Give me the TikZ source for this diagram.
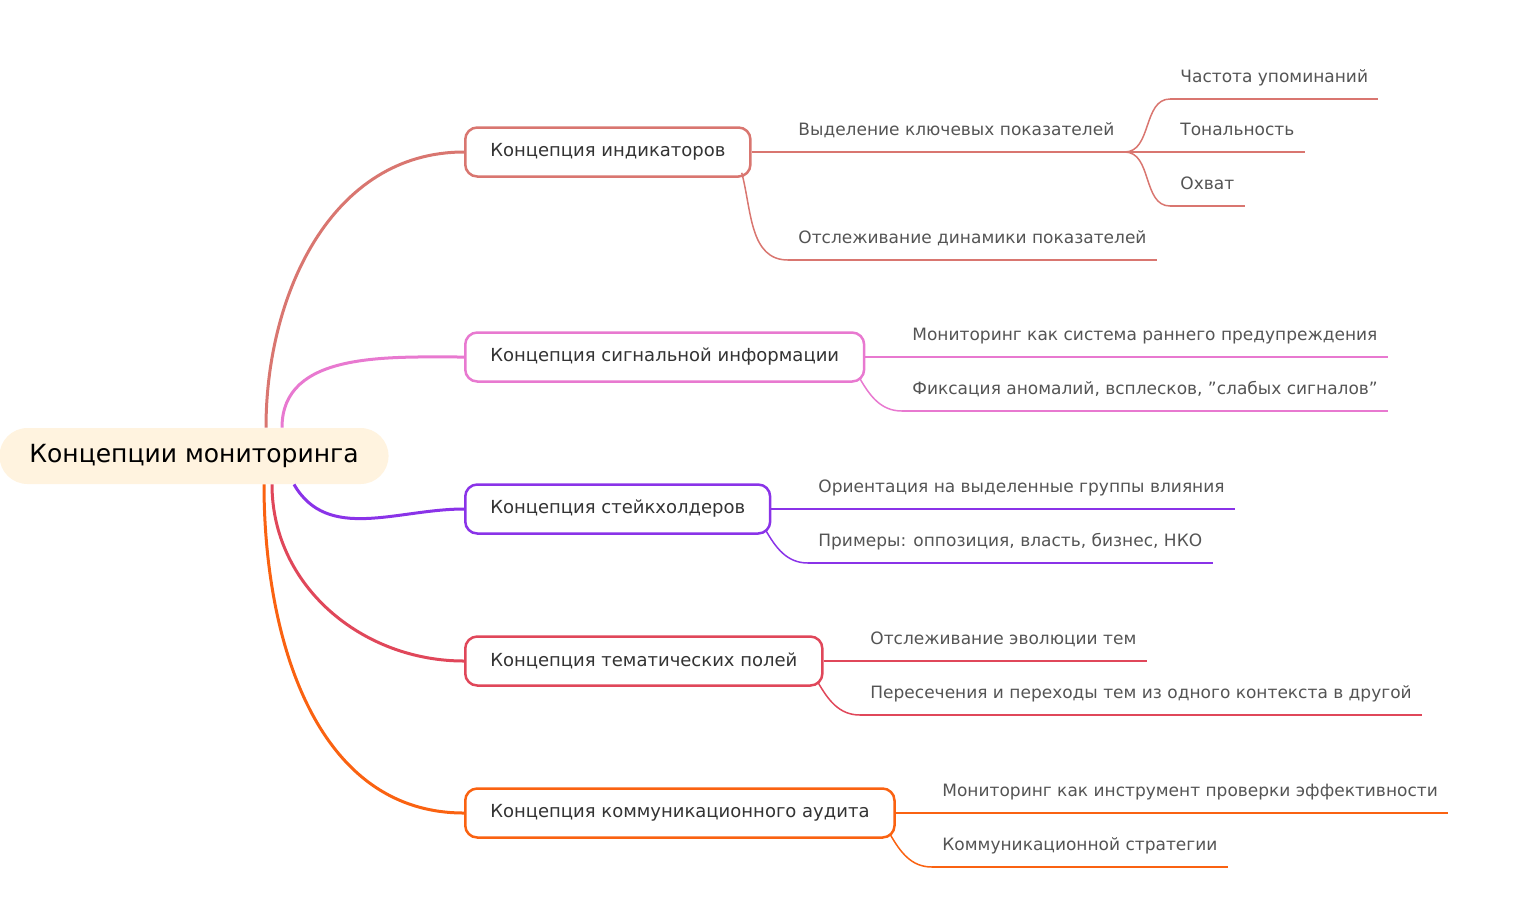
\documentclass[tikz,border=0pt]{standalone}
\usepackage{fontspec}
\setmainfont{DejaVu Sans}
\usetikzlibrary{positioning}
\definecolor{rootfill}{RGB}{255,243,223}
\definecolor{cind}{RGB}{217,118,112}
\definecolor{csig}{RGB}{232,121,208}
\definecolor{cstk}{RGB}{138,51,232}
\definecolor{cthm}{RGB}{224,71,90}
\definecolor{caud}{RGB}{250,98,17}
\tikzset{
  root/.style={fill=rootfill, rounded corners=14pt, minimum height=28pt, inner xsep=15pt, font=\fontsize{12.5}{14}\selectfont, text=black}, % central topic
  topic/.style={draw=#1, line width=1.25pt, fill=white, rounded corners=6pt, minimum height=24.5pt, inner xsep=12.5pt, anchor=west, font=\fontsize{9}{11}\selectfont, text=black!80},
  leaf/.style={anchor=south west, inner xsep=5pt, inner ysep=6pt, text height=7pt, text depth=2pt, font=\fontsize{8.5}{10}\selectfont, text=black!67,
    append after command={(\tikzlastnode.south west) edge[draw=#1, line width=0.75pt] (\tikzlastnode.south east)}},
  trunk/.style={draw=#1, line width=1.5pt},
  twig/.style={draw=#1, line width=0.75pt},
}
\begin{document}
\begin{tikzpicture}[x=0.5pt, y=-0.5pt]
\useasboundingbox (0,0) rectangle (1536,912);
\node[root] (root) at (194,456) {Концепции мониторинга};

% main branches
\node[topic=cind] (ind) at (464,152) {Концепция индикаторов};
\node[topic=csig] (sig) at (464,357) {Концепция сигнальной информации};
\node[topic=cstk] (stk) at (464,509) {Концепция стейкхолдеров};
\node[topic=cthm] (thm) at (464,661) {Концепция тематических полей};
\node[topic=caud] (aud) at (464,813) {Концепция коммуникационного аудита};

\draw[trunk=cind] ([xshift=36pt]root.north) to[out=90,in=180] (ind.west);
\draw[trunk=csig] ([xshift=44pt]root.north) to[out=90,in=180] (sig.west);
\draw[trunk=cstk] ([xshift=50pt]root.south) to[out=-60,in=180] (stk.west);
\draw[trunk=cthm] ([xshift=39pt]root.south) to[out=-90,in=180] (thm.west);
\draw[trunk=caud] ([xshift=35pt]root.south) to[out=-90,in=180] (aud.west);

% indicators
\node[leaf=cind] (ind1) at (788,152) {Выделение ключевых показателей};
\node[leaf=cind] (ind2) at (788,260) {Отслеживание динамики показателей};
\node[leaf=cind] (ind11) at (1170,99) {Частота упоминаний};
\node[leaf=cind] (ind12) at (1170,152) {Тональность};
\node[leaf=cind] (ind13) at (1170,206) {Охват};
\draw[twig=cind] (ind.east) -- (ind1.south west);
\draw[twig=cind] ([xshift=-5pt,yshift=2.5pt]ind.south east) to[out=-75,in=180] (ind2.south west);
\draw[twig=cind] (ind1.south east) to[out=0,in=180] (ind11.south west);
\draw[twig=cind] (ind1.south east) -- (ind12.south west);
\draw[twig=cind] (ind1.south east) to[out=0,in=180] (ind13.south west);

% signals
\node[leaf=csig] (sig1) at (902,357) {Мониторинг как система раннего предупреждения};
\node[leaf=csig] (sig2) at (902,411) {Фиксация аномалий, всплесков, "слабых сигналов"};
\draw[twig=csig] (sig.east) -- (sig1.south west);
\draw[twig=csig] ([xshift=-3pt,yshift=2.5pt]sig.south east) to[out=-60,in=180] (sig2.south west);

% stakeholders
\node[leaf=cstk] (stk1) at (808,509) {Ориентация на выделенные группы влияния};
\node[leaf=cstk] (stk2) at (808,563) {Примеры: оппозиция, власть, бизнес, НКО};
\draw[twig=cstk] (stk.east) -- (stk1.south west);
\draw[twig=cstk] ([xshift=-3pt,yshift=2.5pt]stk.south east) to[out=-60,in=180] (stk2.south west);

% thematic fields
\node[leaf=cthm] (thm1) at (860,661) {Отслеживание эволюции тем};
\node[leaf=cthm] (thm2) at (860,715) {Пересечения и переходы тем из одного контекста в другой};
\draw[twig=cthm] (thm.east) -- (thm1.south west);
\draw[twig=cthm] ([xshift=-3pt,yshift=2.5pt]thm.south east) to[out=-60,in=180] (thm2.south west);

% audit
\node[leaf=caud] (aud1) at (932,813) {Мониторинг как инструмент проверки эффективности};
\node[leaf=caud] (aud2) at (932,867) {Коммуникационной стратегии};
\draw[twig=caud] (aud.east) -- (aud1.south west);
\draw[twig=caud] ([xshift=-3pt,yshift=2.5pt]aud.south east) to[out=-60,in=180] (aud2.south west);
\end{tikzpicture}
\end{document}
